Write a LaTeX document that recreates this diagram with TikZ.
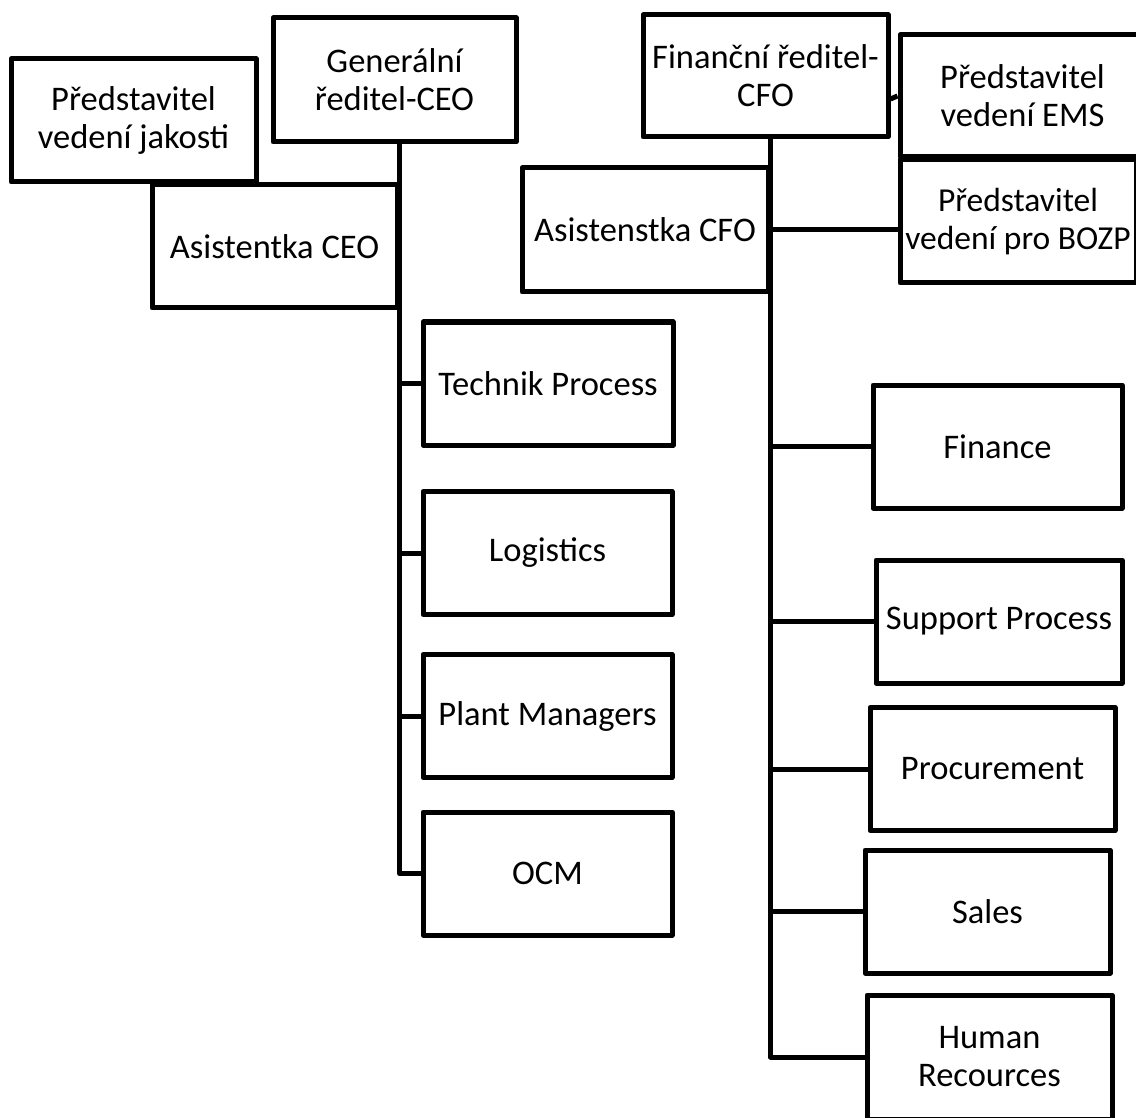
\documentclass[tikz,border=0pt]{standalone}
\usepackage{fontspec}
\setmainfont{Carlito}
\begin{document}
\begin{tikzpicture}[x=1pt,y=1pt,
  box/.style={draw, line width=5pt, line join=round, minimum width=245pt, minimum height=123pt,
    align=center, inner sep=0pt, font=\fontsize{34.5}{38}\selectfont},
  conn/.style={line width=5pt, line join=round}]
\useasboundingbox (0,0) rectangle (1136,-1118);
% CEO side
\node[box] (jak) at (133.5,-120.5) {Představitel\\vedení jakosti};
\node[box, minimum width=243pt, minimum height=124pt] (ceo) at (394.5,-80) {Generální\\ředitel-CEO};
\node[box, fill=white] (aceo) at (274.5,-246.5) {Asistentka CEO};
\node[box, minimum width=250pt] (tech) at (548,-383.5) {Technik Process};
\node[box, minimum width=249pt] (log) at (547.5,-553) {Logistics};
\node[box, minimum width=249pt] (plant) at (547.5,-716) {Plant Managers};
\node[box, minimum width=249pt] (ocm) at (547.5,-873.5) {OCM};
% CFO side
\node[box, minimum height=122pt] (cfo) at (765.5,-76) {Finanční ředitel-\\CFO};
\node[box, minimum height=122pt] (ems) at (1022.5,-96) {Představitel\\vedení EMS};
\node[box, minimum width=236pt, font=\fontsize{33.5}{38}\selectfont] (bozp) at (1018,-221.5) {Představitel\\vedení pro BOZP};
\node[box, minimum width=246pt, minimum height=124pt] (acfo) at (645,-230) {Asistenstka CFO};
\node[box, minimum width=249pt] (fin) at (997.5,-446.5) {Finance};
\node[box, minimum width=246pt] (sup) at (999,-621.5) {Support Process};
\node[box] (proc) at (992.5,-769) {Procurement};
\node[box] (sales) at (987.5,-911.5) {Sales};
\node[box, minimum height=124pt] (hr) at (989.5,-1057) {Human\\Recources};
% CEO connectors
\draw[conn] (aceo.east |- ceo.south) -- (aceo.east |- ocm.west) -- (ocm.west);
\draw[conn] (aceo.east |- tech.west) -- (tech.west);
\draw[conn] (aceo.east |- log.west) -- (log.west);
\draw[conn] (aceo.east |- plant.west) -- (plant.west);
% CFO connectors
\draw[conn] ([yshift=-23pt]cfo.east) -- (ems.west);
\draw[conn] (acfo.east) -- (acfo.east -| bozp.west);
\draw[conn] (acfo.east |- cfo.south) -- (acfo.east |- hr.west) -- (hr.west);
\draw[conn] (acfo.east |- fin.west) -- (fin.west);
\draw[conn] (acfo.east |- sup.west) -- (sup.west);
\draw[conn] (acfo.east |- proc.west) -- (proc.west);
\draw[conn] (acfo.east |- sales.west) -- (sales.west);
\end{tikzpicture}
\end{document}
